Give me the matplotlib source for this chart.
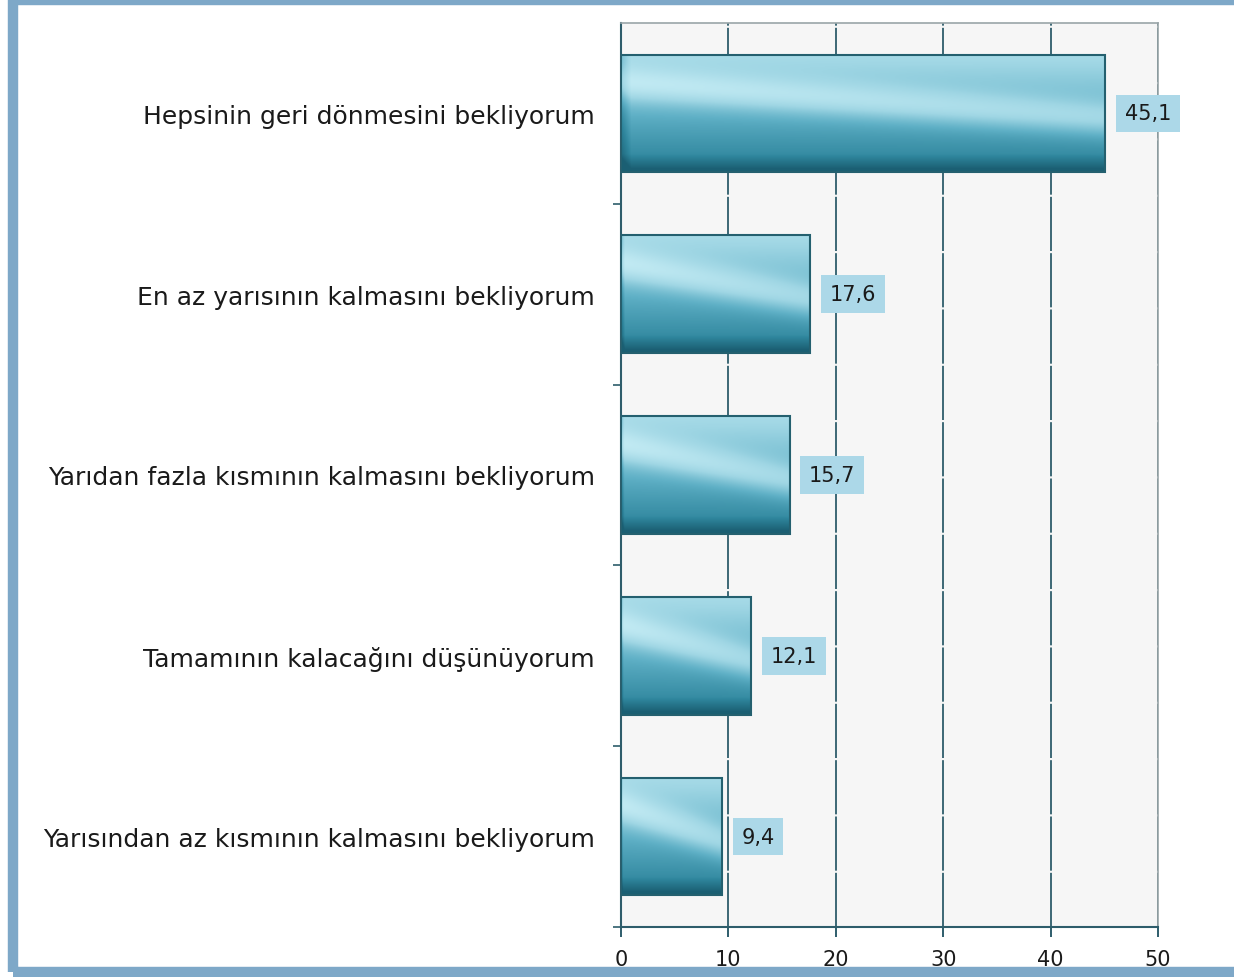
import numpy as np
import matplotlib
matplotlib.use("Agg")
import matplotlib.pyplot as plt
from matplotlib.colors import LinearSegmentedColormap
from matplotlib.patches import Rectangle

# veriler
categories = [
    "Hepsinin geri dönmesini bekliyorum",
    "En az yarısının kalmasını bekliyorum",
    "Yarıdan fazla kısmının kalmasını bekliyorum",
    "Tamamının kalacağını düşünüyorum",
    "Yarısından az kısmının kalmasını bekliyorum",
]
values = [45.1, 17.6, 15.7, 12.1, 9.4]
value_labels = ["45,1", "17,6", "15,7", "12,1", "9,4"]
xticks = [0, 10, 20, 30, 40, 50]

fig = plt.figure(figsize=(12.34, 9.78), dpi=100)
ax = fig.add_axes([621 / 1234, 50 / 978, 537 / 1234, 904 / 978])
ax.set_facecolor("#f6f6f6")

# dış çerçeve
fig.patches.append(Rectangle((13 / 1234, 5 / 978), 1.2, 972 / 978,
                             transform=fig.transFigure, fill=False,
                             edgecolor="#7ea8c8", linewidth=7.5,
                             clip_on=False))

cmap = LinearSegmentedColormap.from_list(
    "bar", ["#1b5f73", "#2f869d", "#5fb0c6", "#9fd6e4", "#c8eef6"])

h = 0.65
ys = np.arange(len(categories))
bars = ax.barh(ys, values, height=h, color="none", edgecolor="#24606f",
               linewidth=1.5, zorder=4)

# gradyanlı çubuklar
ny, nx = 120, 300
t = np.linspace(0, 1, ny)[:, None]
s = np.linspace(0, 1, nx)[None, :]
for b in bars:
    x0, y0, w, hh = b.get_x(), b.get_y(), b.get_width(), b.get_height()
    v = 0.8 - 0.6 * t
    v = v + 0.3 * np.exp(-((t - (0.25 + 0.3 * s)) / 0.15) ** 2)
    v = v - 0.25 * np.clip((t - 0.85) / 0.15, 0, 1)
    v = v - 0.2 * np.clip((0.02 - s) / 0.02, 0, 1)
    v = np.clip(v, 0, 1)
    ax.imshow(v, cmap=cmap, vmin=0, vmax=1, aspect="auto",
              extent=[x0, x0 + w, y0 + hh, y0], zorder=3,
              interpolation="bilinear")

for y, val, lab in zip(ys, values, value_labels):
    ax.annotate(lab, (val, y), xytext=(14, 0), textcoords="offset points",
                ha="left", va="center", fontsize=15, color="#1a1a1a",
                zorder=6,
                bbox=dict(boxstyle="square,pad=0.42", facecolor="#acd8e8",
                          edgecolor="none"))

ax.set_xlim(0, 50)
ax.set_ylim(len(categories) - 0.5, -0.5)
ax.set_xticks(xticks)
ax.set_xticklabels([str(x) for x in xticks])
ax.set_yticks(ys)
ax.set_yticklabels(categories)
ax.set_yticks(np.arange(len(categories)) + 0.5, minor=True)

ax.grid(axis="x", color="#2e5d6b", linewidth=1.3, linestyle=(0, (30, 1.2)),
        zorder=1)
ax.set_axisbelow(True)

ax.tick_params(axis="y", which="major", length=0, pad=19, labelsize=18,
               labelcolor="#1a1a1a")
ax.tick_params(axis="y", which="minor", length=6, width=1.2,
               color="#2e5d6b", direction="out")
ax.tick_params(axis="x", length=7, width=1.4, color="#2e5d6b",
               direction="out", pad=9, labelsize=15, labelcolor="#1a1a1a")

for side in ["left", "bottom"]:
    ax.spines[side].set_color("#2e5d6b")
    ax.spines[side].set_linewidth(1.5)
for side in ["top", "right"]:
    ax.spines[side].set_color("#9aa5a8")
    ax.spines[side].set_linewidth(1.2)

fig.savefig("out.png", dpi=100, facecolor="white")
